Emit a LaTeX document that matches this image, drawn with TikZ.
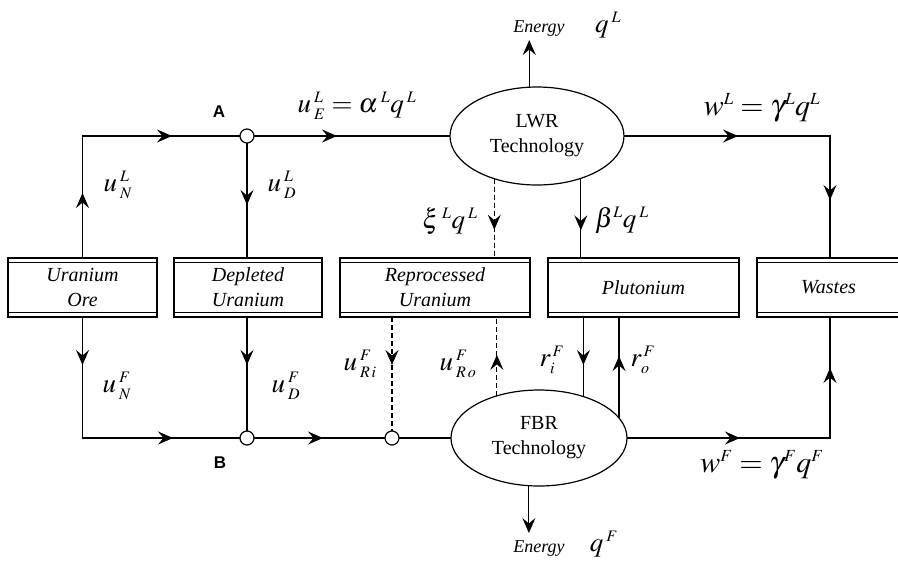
\documentclass[tikz,border=0pt]{standalone}
\usepackage{mathptmx}
\usepackage{fontspec}
\setmainfont{Liberation Serif}
\newfontfamily\labelsans{Liberation Sans}
\DeclareMathSizes{27}{27}{16}{12}
\DeclareMathSizes{30}{30}{17}{12}
\usetikzlibrary{arrows.meta,decorations.markings,shapes.geometric}
\tikzset{bigtip/.tip={Stealth[length=15pt,width=13pt,inset=5.5pt]}}
\begin{document}
\begin{tikzpicture}[x=1pt,y=-1pt,
  conn/.style={line width=1.2pt},
  dashconn/.style={line width=1.2pt,dash pattern=on 5pt off 3pt},
  tipat/.style={postaction={solid,decorate,decoration={markings,mark=at position #1 with {\arrow{bigtip}}}}},
  store/.style={draw,line width=2.2pt,minimum height=59pt,inner sep=0pt,outer sep=0pt,align=center,font=\fontsize{20}{25}\selectfont\itshape},
  tech/.style={ellipse,draw,line width=1.2pt,inner sep=0pt,outer sep=0pt,align=center,font=\fontsize{20}{25}\selectfont},
  junc/.style={circle,draw,line width=1.2pt,fill=white,minimum size=14pt,inner sep=0pt,outer sep=0pt},
  lab/.style={font=\fontsize{27}{30}\selectfont,inner sep=0pt},
  biglab/.style={font=\fontsize{30}{34}\selectfont,inner sep=0pt},
  elab/.style={font=\fontsize{18}{20}\selectfont\itshape,inner sep=0pt},
  ptlab/.style={font=\fontsize{17}{19}\selectfont\labelsans\bfseries,inner sep=0pt}
]
\useasboundingbox (0,0) rectangle (898,566);

% stores
\node[store,minimum width=149pt] (ore) at (82.5,287.5) {Uranium\\Ore};
\node[store,minimum width=148pt] (dep) at (248,287.5) {Depleted\\Uranium};
\node[store,minimum width=190pt] (rep) at (435,287.5) {Reprocessed\\Uranium};
\node[store,minimum width=191pt] (plu) at (643.5,287.5) {Plutonium};
\node[store,minimum width=143pt] (was) at (828.5,287.5) {Wastes};
\foreach \b in {ore,dep,rep,plu,was}{
  \draw[line width=0.9pt] ([yshift=-4.5pt]\b.north west) -- ([yshift=-4.5pt]\b.north east);
  \draw[line width=0.9pt] ([yshift=4.5pt]\b.south west) -- ([yshift=4.5pt]\b.south east);
}

% technologies
\node[tech,minimum width=174pt,minimum height=98pt] (LWR) at (537,136) {LWR\\Technology};
\node[tech,minimum width=176pt,minimum height=96pt] (FBR) at (539,438) {FBR\\Technology};

% junctions
\node[junc] (A) at (247,136) {};
\node[junc] (B) at (247,438) {};
\node[junc] (C) at (392,438) {};

% helper coordinates
\coordinate (TL) at (ore.north |- A);
\coordinate (BL) at (ore.south |- B);
\coordinate (TR) at (830,136);
\coordinate (BR) at (830,438);
\coordinate (eT) at (529,40);
\coordinate (eB) at (529,533);

% connectors
\draw[conn,tipat=65pt,tipat=211.5pt] (ore.north) -- (TL) -- (A.west);
\draw[conn,tipat=83pt] (A.east) -- (LWR.west);
\draw[conn,tipat=62pt] (A.south) -- (A.south |- dep.north);
\draw[conn,tipat=48pt] (A.south |- dep.south) -- (B.north);
\draw[conn,tipat=48pt,tipat=211.5pt] (ore.south) -- (BL) -- (B.west);
\draw[conn,tipat=69pt] (B.east) -- (C.west);
\draw[conn] (C.east) -- (FBR.west);
\draw[dashconn,tipat=48pt] (C.north |- rep.south) -- (C.north);
\draw[dashconn,tipat=41pt] (FBR.135.7) -- (FBR.135.7 |- rep.south);
\draw[dashconn,tipat=51pt] (LWR.225.6) -- (LWR.225.6 |- rep.north);
\draw[conn,tipat=52pt] (LWR.316.1) -- (LWR.316.1 |- plu.north);
\draw[conn,tipat=48pt] (FBR.43.4 |- plu.south) -- (FBR.43.4);
\draw[conn,tipat=62pt] (FBR.14.95) -- (FBR.14.95 |- plu.south);
\draw[conn,-bigtip] (LWR.99.3) -- (LWR.99.3 |- eT);
\draw[conn,-bigtip] (FBR.258.2) -- (FBR.258.2 |- eB);
\draw[conn,tipat=114pt,tipat=270pt] (LWR.east) -- (TR) -- (TR |- was.north);
\draw[conn,tipat=113pt,tipat=273pt] (FBR.east) -- (BR) -- (BR |- was.south);

% labels
\node[ptlab] (lA) at (219,112) {A};
\node[ptlab] (lB) at (220,463) {B};
\node[lab] (lUE) at (357,106) {$u\,{}^{L}_{E} = \alpha\,{}^{L} q\,{}^{L}$};
\node[lab] (lUNL) at (118,185) {$u\,{}^{L}_{N}$};
\node[lab] (lUDL) at (282,185) {$u\,{}^{L}_{D}$};
\node[lab] (lxi) at (450,221) {$\xi\,{}^{L} q\,{}^{L}$};
\node[lab] (lbeta) at (622,220) {$\beta^{L} q\,{}^{L}$};
\node[biglab] (lwL) at (762,108) {$w^{L} = \gamma^{L} q^{L}$};
\node[elab] (lEt) at (539,29) {Energy};
\node[lab] (lqL) at (608,25) {$q\,{}^{L}$};
\node[lab] (lUNF) at (117,386) {$u\,{}^{F}_{N}$};
\node[lab] (lUDF) at (286,386) {$u\,{}^{F}_{D}$};
\node[lab] (lURi) at (360,364) {$u\,{}^{F}_{R\,i}$};
\node[lab] (lURo) at (458,364) {$u\,{}^{F}_{R\,o}$};
\node[lab] (lri) at (552,360) {$r_{i}^{\,F}$};
\node[lab] (lro) at (643,360) {$r_{o}^{\,F}$};
\node[biglab] (lwF) at (762,465) {$w^{F} = \gamma^{F} q^{F}$};
\node[elab] (lEb) at (539,549) {Energy};
\node[lab] (lqF) at (604,544) {$q\,{}^{F}$};
\end{tikzpicture}
\end{document}
